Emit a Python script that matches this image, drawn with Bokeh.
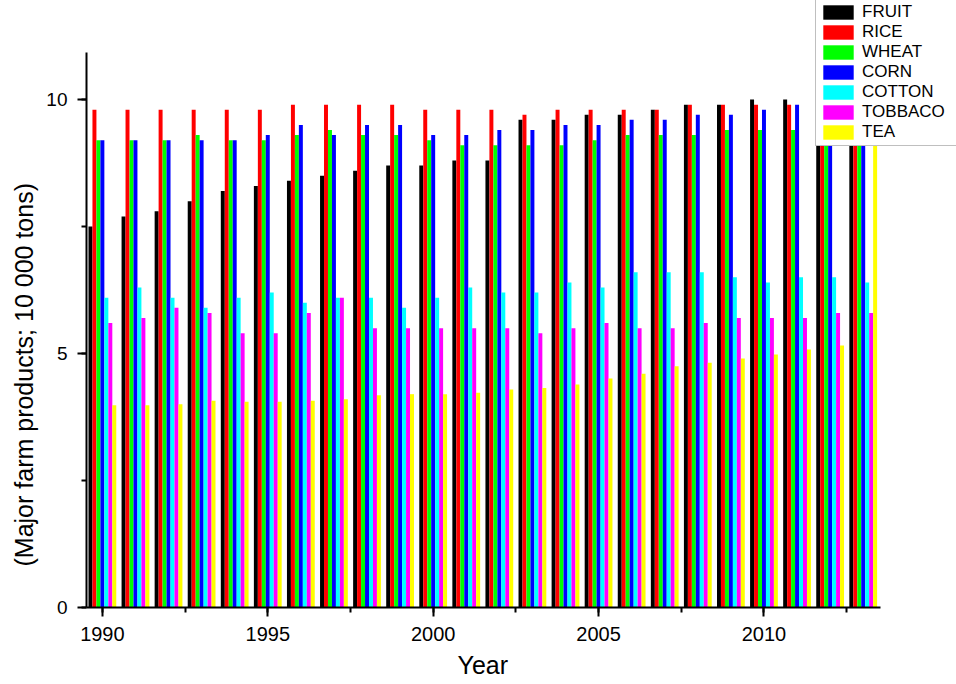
from bokeh.plotting import figure
from bokeh.models import (ColumnDataSource, Range1d, SingleIntervalTicker, Title,
                          Legend, LegendItem)
from bokeh.embed import file_html
from bokeh.resources import INLINE

years = list(range(1990, 2014))
series_names = ["FRUIT", "RICE", "WHEAT", "CORN", "COTTON", "TOBBACO", "TEA"]
series_colors = ["#000000", "#FF0000", "#00FF00", "#0000FF", "#00FFFF", "#FF00FF", "#FFFF00"]

fruit = [7.5, 7.7, 7.8, 8.0, 8.2, 8.3, 8.4, 8.5, 8.6, 8.7, 8.7, 8.8,
         8.8, 9.6, 9.6, 9.7, 9.7, 9.8, 9.9, 9.9, 10.0, 10.0, 10.1, 10.1]
rice = [9.8, 9.8, 9.8, 9.8, 9.8, 9.8, 9.9, 9.9, 9.9, 9.9, 9.8, 9.8,
        9.8, 9.7, 9.8, 9.8, 9.8, 9.8, 9.9, 9.9, 9.9, 9.9, 9.9, 9.9]
wheat = [9.2, 9.2, 9.2, 9.3, 9.2, 9.2, 9.3, 9.4, 9.3, 9.3, 9.2, 9.1,
         9.1, 9.1, 9.1, 9.2, 9.3, 9.3, 9.3, 9.4, 9.4, 9.4, 9.4, 9.4]
corn = [9.2, 9.2, 9.2, 9.2, 9.2, 9.3, 9.5, 9.3, 9.5, 9.5, 9.3, 9.3,
        9.4, 9.4, 9.5, 9.5, 9.6, 9.6, 9.7, 9.7, 9.8, 9.9, 9.9, 9.9]
cotton = [6.1, 6.3, 6.1, 5.9, 6.1, 6.2, 6.0, 6.1, 6.1, 5.9, 6.1, 6.3,
          6.2, 6.2, 6.4, 6.3, 6.6, 6.6, 6.6, 6.5, 6.4, 6.5, 6.5, 6.4]
tobbaco = [5.6, 5.7, 5.9, 5.8, 5.4, 5.4, 5.8, 6.1, 5.5, 5.5, 5.5, 5.5,
           5.5, 5.4, 5.5, 5.6, 5.5, 5.5, 5.6, 5.7, 5.7, 5.7, 5.8, 5.8]
tea = [3.98, 3.98, 4.0, 4.07, 4.05, 4.05, 4.07, 4.1, 4.18, 4.2, 4.2, 4.23,
       4.29, 4.32, 4.39, 4.51, 4.6, 4.75, 4.82, 4.9, 4.98, 5.08, 5.16, 9.7]

series_values = [fruit, rice, wheat, corn, cotton, tobbaco, tea]

FONT = "Liberation Sans"
BAR_W = 0.12
X_AXIS_BOUNDS = (1989.52, 2013.52)
Y_AXIS_BOUNDS = (0, 10.92)

p = figure(width=956, height=684, output_backend="svg", toolbar_location=None,
           x_range=Range1d(1989.52, 2015.82), y_range=Range1d(0, 11.95),
           min_border_left=86, min_border_right=0, min_border_top=0, min_border_bottom=77)
p.outline_line_color = None
p.xgrid.visible = False
p.ygrid.visible = False
p.background_fill_color = "white"
p.border_fill_color = "white"

items = []
for i, (name, col, vals) in enumerate(zip(series_names, series_colors, series_values)):
    src = ColumnDataSource(dict(x=[y + (i - 3) * BAR_W for y in years], top=vals))
    r = p.vbar(x="x", top="top", bottom=0, width=BAR_W, source=src,
               fill_color=col, line_color=None)
    items.append(LegendItem(label=name, renderers=[r]))

for ax in (p.xaxis[0], p.yaxis[0]):
    ax.axis_line_width = 2
    ax.axis_line_color = "black"
    ax.major_tick_line_width = 2
    ax.minor_tick_line_width = 2
    ax.major_tick_in = 0
    ax.major_tick_out = 9
    ax.minor_tick_in = 0
    ax.minor_tick_out = 5
    ax.major_label_text_font = FONT
    ax.major_label_text_color = "black"

p.xaxis.bounds = X_AXIS_BOUNDS
p.yaxis.bounds = Y_AXIS_BOUNDS
p.xaxis.major_label_text_font_size = "20px"
p.yaxis.major_label_text_font_size = "19px"
p.xaxis.major_label_text_line_height = 1.0
p.xaxis.ticker = SingleIntervalTicker(interval=5, num_minor_ticks=2)
p.yaxis.ticker = SingleIntervalTicker(interval=5, num_minor_ticks=2)
p.xaxis.major_label_standoff = 10
p.yaxis.major_label_standoff = 10

# axis titles as side-panel titles, shifted to where the reference places them
xtitle = Title(text="Year", align="left", offset=371, standoff=11,
               text_font=FONT, text_font_size="25px", text_font_style="normal",
               text_color="black", text_line_height=1.0)
p.add_layout(xtitle, "below")

ytitle = Title(text="(Major farm products;  10 000 tons)", align="left", offset=41,
               standoff=12, text_font=FONT, text_font_size="25px",
               text_font_style="normal", text_color="black")
p.add_layout(ytitle, "left")

legend = Legend(items=items, location=(729, 461),
                label_text_font=FONT, label_text_font_size="17px", label_text_color="black",
                label_text_line_height=1.0,
                glyph_width=38, glyph_height=18, label_height=18, label_width=120,
                label_standoff=5, spacing=0, padding=3, margin=0,
                border_line_color="#808080", border_line_width=1.5,
                background_fill_color="white", background_fill_alpha=1.0)
p.add_layout(legend, "center")

open("out.html", "w").write(file_html(p, INLINE))
